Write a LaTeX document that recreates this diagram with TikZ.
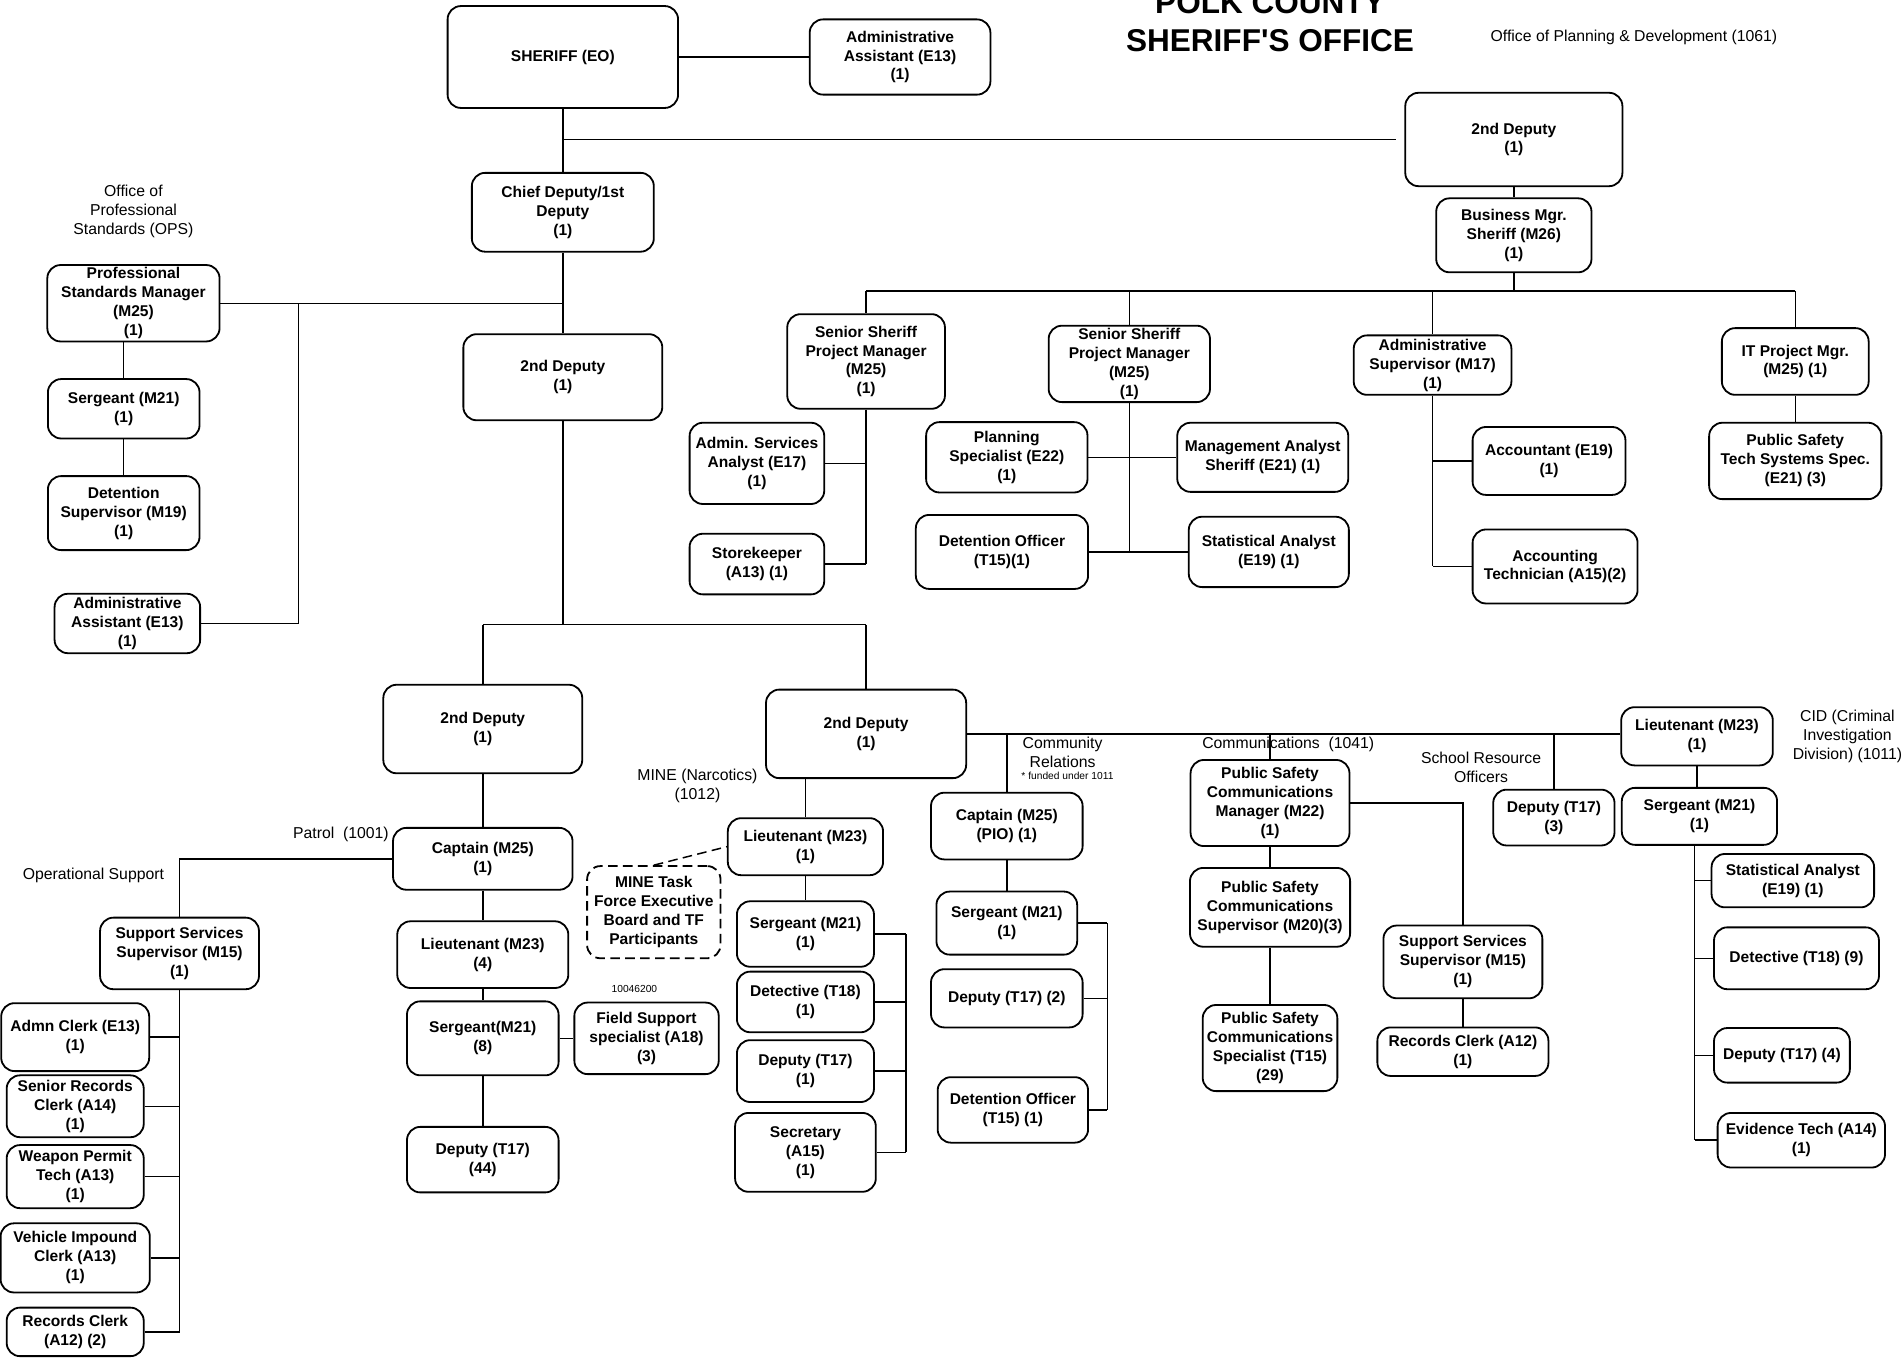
\documentclass[tikz,border=0pt]{standalone}
\usepackage{fontspec}
\setmainfont{Liberation Sans}
\usepackage{tikz}
\def\pxunit{0.2mm}

\begin{document}
\begin{tikzpicture}[x=\pxunit, y=-\pxunit, line width=0.7pt]
    \tikzstyle{office}=[draw, line width=0.85pt, rounded corners=0.22cm, align=center, inner sep=0pt, font=\bfseries\fontsize{7.3}{8.9}\selectfont]
    \tikzstyle{office dashed}=[office, dash pattern=on 4.5pt off 2.5pt]
    \tikzstyle{annot}=[align=center, inner sep=0pt, font=\fontsize{7.4}{8.9}\selectfont]
    \tikzstyle{small annot}=[annot, font=\fontsize{4.8}{6}\selectfont]
    \tikzstyle{heading}=[align=center, inner sep=0pt, font=\bfseries\fontsize{14.8}{17.6}\selectfont]

    \useasboundingbox (0,0) rectangle (1568,1119);

    % Title and top level
    \node[heading] (title) at (1047,18) {POLK COUNTY\\SHERIFF\textquotesingle S OFFICE};
    \node[annot] (opd) at (1347,31) {Office of Planning \& Development (1061)};
    \node[office, minimum width=3.8cm, minimum height=1.68cm] (sheriff) at (464,47) {SHERIFF (EO)};
    \node[office, minimum width=2.98cm, minimum height=1.24cm] (adm) at (742,47) {Administrative\\Assistant (E13)\\(1)};
    \node[office, minimum width=3.58cm, minimum height=1.54cm] (dep2a) at (1248,115) {2nd Deputy\\(1)};
    \node[office, minimum width=3.0cm, minimum height=1.3cm] (chief) at (464,175) {Chief Deputy/1st\\Deputy\\(1)};
    \node[office, minimum width=2.56cm, minimum height=1.22cm] (bmgr) at (1248,194) {Business Mgr.\\Sheriff (M26)\\(1)};

    % Business manager branch
    \node[office, minimum width=2.6cm, minimum height=1.56cm] (sspm1) at (714,298) {Senior Sheriff\\Project Manager\\(M25)\\(1)};
    \node[office, minimum width=2.66cm, minimum height=1.26cm] (sspm2) at (931,300) {Senior Sheriff\\Project Manager\\(M25)\\(1)};
    \node[office, minimum width=2.6cm, minimum height=0.98cm] (admsup) at (1181,301) {Administrative\\Supervisor (M17)\\(1)};
    \node[office, minimum width=2.42cm, minimum height=1.1cm] (itpm) at (1480,298) {IT Project Mgr.\\(M25) (1)};
    \node[office, minimum width=2.84cm, minimum height=1.26cm] (pstss) at (1480,380) {Public Safety\\Tech Systems Spec.\\(E21) (3)};
    \node[office, minimum width=2.22cm, minimum height=1.34cm] (asa) at (624,382) {Admin. Services\\Analyst (E17)\\(1)};
    \node[office, minimum width=2.22cm, minimum height=1.0cm] (store) at (624,465) {Storekeeper\\(A13) (1)};
    \node[office, minimum width=2.66cm, minimum height=1.16cm] (plan) at (830,377) {Planning\\Specialist (E22)\\(1)};
    \node[office, minimum width=2.82cm, minimum height=1.14cm] (mgmt) at (1041,377) {Management Analyst\\Sheriff (E21) (1)};
    \node[office, minimum width=2.84cm, minimum height=1.22cm] (detoff) at (826,455) {Detention Officer\\(T15)(1)};
    \node[office, minimum width=2.64cm, minimum height=1.16cm] (stat) at (1046,455) {Statistical Analyst\\(E19) (1)};
    \node[office, minimum width=2.52cm, minimum height=1.12cm] (acct) at (1277,380) {Accountant (E19)\\(1)};
    \node[office, minimum width=2.72cm, minimum height=1.22cm] (acctech) at (1282,467) {Accounting\\Technician (A15)(2)};

    % Professional standards
    \node[annot] (ops) at (110,174) {Office of\\Professional\\Standards (OPS)};
    \node[office, minimum width=2.84cm, minimum height=1.26cm] (psm) at (110,250) {Professional\\Standards Manager\\(M25)\\(1)};
    \node[office, minimum width=2.5cm, minimum height=0.98cm] (sgt1) at (102,337) {Sergeant (M21)\\(1)};
    \node[office, minimum width=2.5cm, minimum height=1.22cm] (detsup) at (102,423) {Detention\\Supervisor (M19)\\(1)};
    \node[office, minimum width=2.4cm, minimum height=0.98cm] (adm2) at (105,514) {Administrative\\Assistant (E13)\\(1)};
    \node[office, minimum width=3.28cm, minimum height=1.42cm] (dep2b) at (464,311) {2nd Deputy\\(1)};

    % Patrol
    \node[office, minimum width=3.28cm, minimum height=1.46cm] (dep2l) at (398,601) {2nd Deputy\\(1)};
    \node[annot] (patrol) at (281,688) {Patrol\ \ (1001)};
    \node[annot] (opsup) at (77,722) {Operational Support};
    \node[office, minimum width=2.96cm, minimum height=1.02cm] (capt1) at (398,708) {Captain (M25)\\(1)};
    \node[office, minimum width=2.82cm, minimum height=1.1cm] (lt1) at (398,787) {Lieutenant (M23)\\(4)};
    \node[office, minimum width=2.5cm, minimum height=1.22cm] (sgt2) at (398,856) {Sergeant(M21)\\(8)};
    \node[office, minimum width=2.5cm, minimum height=1.08cm] (dep3) at (398,956) {Deputy (T17)\\(44)};
    \node[small annot] (code) at (523,815) {10046200};
    \node[office, minimum width=2.38cm, minimum height=1.18cm] (fss) at (533,856) {Field Support\\specialist (A18)\\(3)};
    \node[office, minimum width=2.62cm, minimum height=1.18cm] (sss1) at (148,786) {Support Services\\Supervisor (M15)\\(1)};
    \node[office, minimum width=2.44cm, minimum height=1.12cm] (admn) at (62,855) {Admn Clerk (E13)\\(1)};
    \node[office, minimum width=2.26cm, minimum height=1.02cm] (src) at (62,912) {Senior Records\\Clerk (A14)\\(1)};
    \node[office, minimum width=2.26cm, minimum height=1.04cm] (wpt) at (62,970) {Weapon Permit\\Tech (A13)\\(1)};
    \node[office, minimum width=2.46cm, minimum height=1.14cm] (vic) at (62,1037) {Vehicle Impound\\Clerk (A13)\\(1)};
    \node[office, minimum width=2.26cm, minimum height=0.8cm] (rc1) at (62,1098) {Records Clerk\\(A12) (2)};

    % Narcotics
    \node[office, minimum width=3.3cm, minimum height=1.46cm] (dep2c) at (714,605) {2nd Deputy\\(1)};
    \node[annot] (narc) at (575,648) {MINE (Narcotics)\\(1012)};
    \node[office, minimum width=2.56cm, minimum height=0.94cm] (lt2) at (664,698) {Lieutenant (M23)\\(1)};
    \node[office dashed, minimum width=2.2cm, minimum height=1.52cm] (mine) at (539,752) {MINE Task\\Force Executive\\Board and TF\\Participants};
    \node[office, minimum width=2.26cm, minimum height=1.08cm] (sgt3) at (664,770) {Sergeant (M21)\\(1)};
    \node[office, minimum width=2.26cm, minimum height=1.0cm] (det1) at (664,826) {Detective (T18)\\(1)};
    \node[office, minimum width=2.26cm, minimum height=1.02cm] (dep4) at (664,883) {Deputy (T17)\\(1)};
    \node[office, minimum width=2.32cm, minimum height=1.3cm] (sec) at (664,950) {Secretary\\(A15)\\(1)};

    % Community relations
    \node[annot] (comrel) at (876,620) {Community\\Relations};
    \node[small annot] (fund) at (880,640) {* funded under 1011};
    \node[office, minimum width=2.5cm, minimum height=1.1cm] (cappio) at (830,681) {Captain (M25)\\(PIO) (1)};
    \node[office, minimum width=2.32cm, minimum height=1.04cm] (sgt4) at (830,761) {Sergeant (M21)\\(1)};
    \node[office, minimum width=2.5cm, minimum height=0.96cm] (dep6) at (830,823) {Deputy (T17) (2)};
    \node[office, minimum width=2.48cm, minimum height=1.08cm] (detoff2) at (835,915) {Detention Officer\\(T15) (1)};

    % Communications
    \node[annot] (comm) at (1062,614) {Communications\ \ (1041)};
    \node[office, minimum width=2.62cm, minimum height=1.42cm] (pscm) at (1047,662) {Public Safety\\Communications\\Manager (M22)\\(1)};
    \node[office, minimum width=2.64cm, minimum height=1.3cm] (pscs) at (1047,748) {Public Safety\\Communications\\Supervisor (M20)(3)};
    \node[office, minimum width=2.22cm, minimum height=1.42cm] (pscsp) at (1047,864) {Public Safety\\Communications\\Specialist (T15)\\(29)};
    \node[office, minimum width=2.62cm, minimum height=1.2cm] (sss2) at (1206,793) {Support Services\\Supervisor (M15)\\(1)};
    \node[office, minimum width=2.82cm, minimum height=0.8cm] (rc2) at (1206,867) {Records Clerk (A12)\\(1)};

    % School resource officers and CID
    \node[annot] (sro) at (1221,633) {School Resource\\Officers};
    \node[office, minimum width=2.0cm, minimum height=0.92cm] (dep5) at (1281,674) {Deputy (T17)\\(3)};
    \node[office, minimum width=2.5cm, minimum height=0.96cm] (ltcid) at (1399,607) {Lieutenant (M23)\\(1)};
    \node[annot] (cid) at (1523,607) {CID (Criminal\\Investigation\\Division) (1011)};
    \node[office, minimum width=2.56cm, minimum height=0.94cm] (sgtcid) at (1401,673) {Sergeant (M21)\\(1)};
    \node[office, minimum width=2.68cm, minimum height=0.88cm] (stat2) at (1478,726) {Statistical Analyst\\(E19) (1)};
    \node[office, minimum width=2.72cm, minimum height=1.02cm] (det2) at (1481,790) {Detective (T18) (9)};
    \node[office, minimum width=2.24cm, minimum height=0.9cm] (dep7) at (1469,870) {Deputy (T17) (4)};
    \node[office, minimum width=2.76cm, minimum height=0.9cm] (evt) at (1485,940) {Evidence Tech (A14)\\(1)};

    % Connect the top level
    \draw (sheriff) -- (adm);
    \draw (sheriff) -- (chief);
    \draw[shorten >=7*\pxunit] (sheriff.south |- dep2a) -- (dep2a.west);
    \draw (dep2a) -- (bmgr);
    \coordinate (bbar) at (1248,240);
    \draw (bmgr) -- (bbar);
    \draw (sspm1 |- bbar) -- (itpm |- bbar);
    \foreach \name in {sspm1,sspm2,admsup,itpm}
        \draw (\name |- bbar) -- (\name);
    \draw (itpm) -- (pstss);
    \draw (sspm1) -- (sspm1 |- store);
    \foreach \name in {asa,store}
        \draw (\name) -- (sspm1 |- \name);
    \draw (sspm2) -- (sspm2 |- stat);
    \draw (plan) -- (mgmt);
    \draw (detoff) -- (stat);
    \draw (admsup) -- (admsup |- acctech);
    \foreach \name in {acct,acctech}
        \draw (\name) -- (admsup |- \name);

    % Connect professional standards
    \draw (psm) -- (chief |- psm);
    \coordinate (opsx) at (246,250);
    \draw (opsx) -- (opsx |- adm2) -- (adm2);
    \draw (sgt1 |- psm.south) -- (sgt1) -- (detsup);
    \draw (chief) -- (dep2b);
    \coordinate (lbar) at (464,515);
    \draw (dep2b) -- (lbar);
    \draw (dep2l |- lbar) -- (dep2c |- lbar);
    \foreach \name in {dep2l,dep2c}
        \draw (\name |- lbar) -- (\name);

    % Connect patrol
    \draw (dep2l) -- (capt1) -- (lt1) -- (sgt2) -- (dep3);
    \draw (sgt2) -- (fss);
    \draw (capt1.west) -| (sss1.north);
    \draw (sss1) -- (sss1 |- rc1);
    \foreach \name in {admn,src,wpt,vic,rc1}
        \draw (\name) -- (sss1 |- \name);

    % Connect narcotics
    \draw (dep2c.south -| lt2) -- (lt2) -- (sgt3);
    \draw[dash pattern=on 4.5pt off 2.5pt] (mine.north) -- (lt2.west);
    \coordinate (mbar) at (747,765);
    \draw (mbar |- sgt3) -- (mbar |- sec);
    \foreach \name in {sgt3,det1,dep4,sec}
        \draw (\name) -- (mbar |- \name);

    % Connect the right hand bar
    \draw (dep2c.east) -- (ltcid.west |- dep2c.east);
    \foreach \name in {cappio,pscm,dep5}
        \draw (\name |- dep2c.east) -- (\name);
    \draw (cappio) -- (sgt4);
    \coordinate (cbar) at (913,760);
    \draw (cbar |- sgt4) -- (cbar |- detoff2);
    \foreach \name in {sgt4,dep6,detoff2}
        \draw (\name) -- (cbar |- \name);
    \draw (pscm) -- (pscs) -- (pscsp);
    \draw (pscm.east) -| (sss2.north);
    \draw (sss2) -- (rc2);
    \draw (ltcid) -- (ltcid |- sgtcid.north);
    \coordinate (dbar) at (1397,700);
    \draw (dbar |- sgtcid.south) -- (dbar |- evt);
    \foreach \name in {stat2,det2,dep7,evt}
        \draw (\name) -- (dbar |- \name);
\end{tikzpicture}
\end{document}
